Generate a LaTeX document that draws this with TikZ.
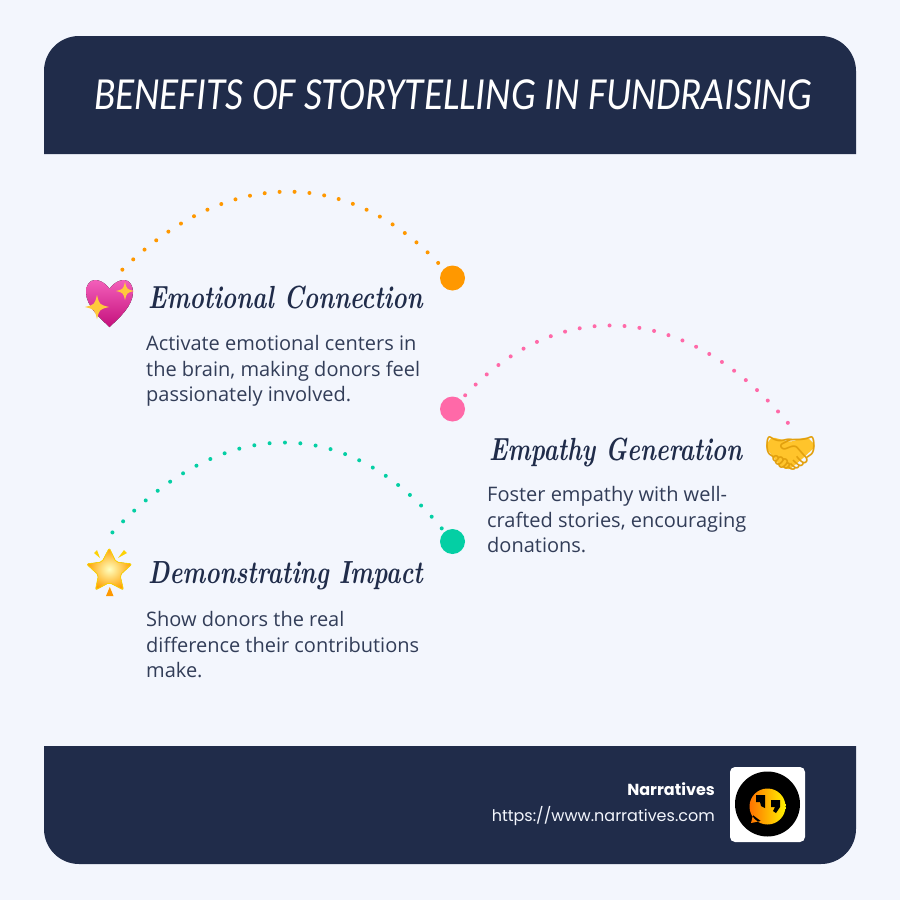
\documentclass[tikz,border=0pt]{standalone}
\usepackage{fontspec}
\usepackage{xcolor}
\setmainfont{Open Sans}
\newfontfamily\footfont{Poppins}
\newfontfamily\emojifont{Noto Emoji}
\newfontfamily\titlefont[FakeStretch=0.85]{Carlito}
\newfontfamily\handfont[FakeStretch=0.76]{Latin Modern Roman}
\definecolor{pagebg}{HTML}{F3F6FD}
\definecolor{navy}{HTML}{202C4A}
\definecolor{orangedot}{HTML}{FF9800}
\definecolor{pinkdot}{HTML}{FF69A8}
\definecolor{greendot}{HTML}{04CFA4}
\definecolor{heartlight}{HTML}{F35FBA}
\definecolor{heartmid}{HTML}{EA2C97}
\definecolor{heartdark}{HTML}{C4107C}
\definecolor{sparkgold}{HTML}{FFC93C}
\definecolor{shakefill}{HTML}{FFC42B}
\definecolor{shakeline}{HTML}{E2A00E}
\tikzset{
    bandfill/.style={fill=navy, draw=none},
    bigdot/.style={circle, minimum size=25pt, inner sep=0pt},
    arcdots/.style={line width=4pt, line cap=round, dash pattern=on 0pt off #1pt},
    headtext/.style={anchor=base west, inner sep=0pt, text=navy, font=\fontsize{32}{32}\handfont\bfseries\itshape},
    bodytext/.style={anchor=north west, align=left, text=navy!92!white, inner sep=0pt, font=\fontsize{20}{25.5}\selectfont},
    sparkle/.pic={\fill[sparkgold] (0,-1) .. controls (0.2,-0.2) .. (1,0) .. controls (0.2,0.2) .. (0,1) .. controls (-0.2,0.2) .. (-1,0) .. controls (-0.2,-0.2) .. cycle;},
}
\begin{document}
\begin{tikzpicture}[x=1pt, y=-1pt]
    \useasboundingbox (0,0) rectangle (900,900);
    \fill[pagebg] (0,0) rectangle (900,900);

    % Header band
    \path[bandfill] (44,154) -- (44,71) arc[start angle=180, end angle=270, radius=35] -- (821,36) arc[start angle=270, end angle=360, radius=35] -- (856,154) -- cycle;
    \node[inner sep=0pt, text=white, font=\fontsize{46}{46}\titlefont\itshape] (title) at (453,95) {BENEFITS OF STORYTELLING IN FUNDRAISING};

    % Footer band
    \path[bandfill] (44,746) -- (856,746) -- (856,829) arc[start angle=0, end angle=90, radius=35] -- (79,864) arc[start angle=90, end angle=180, radius=35] -- cycle;
    \node[anchor=base east, inner sep=0pt, text=white, font=\fontsize{16}{16}\footfont\bfseries] (brand) at (715,795) {Narratives};
    \node[anchor=base east, inner sep=0pt, text=pagebg, font=\fontsize{16}{16}\footfont] (site) at (715,821.5) {https://www.narratives.com};

    % Logo
    \fill[white, rounded corners=5pt] (730,767) rectangle (805,842);
    \fill[black] (767.5,804) circle[radius=32.5];
    \fill[left color=orange!90!red, right color=yellow!90!orange] (767.5,806.5) circle[radius=18] (753,815) -- (751,823) -- (761,821) -- cycle;
    \fill[black] (756,795) rectangle (765,802) (760,802) -- (765,802) -- (765,808) -- (761,806) -- cycle;
    \fill[black] (771,800) rectangle (780,807) (775,807) -- (780,807) -- (776,813) -- (773,811) -- cycle;

    % Emotional Connection
    \node[bigdot, fill=orangedot, outer sep=8.3pt] (dotA) at (452.5,278) {};
    \coordinate (endA) at (120,272);
    \draw[arcdots=14.95, orangedot] (dotA) .. controls (345,165) and (224,168) .. (endA);
    \fill[top color=heartlight, middle color=heartmid, bottom color=heartdark] (109.5,289) .. controls (105,282) and (99,280) .. (95,280) .. controls (89,280) and (86,286) .. (86,292) .. controls (86,306) and (100,318) .. (109.5,327) .. controls (119,318) and (133,306) .. (133,292) .. controls (133,286) and (130,280) .. (124,280) .. controls (120,280) and (114,282) .. (109.5,289);
    \pic[scale=12] at (97,307) {sparkle};
    \pic[scale=9] at (125,291) {sparkle};
    \node[headtext] (headA) at (148,308) {Emotional Connection};
    \node[bodytext] (bodyA) at (146,335.5) {Activate emotional centers in\\the brain, making donors feel\\passionately involved.};

    % Empathy Generation
    \node[bigdot, fill=pinkdot, outer sep=6.2pt] (dotB) at (452.5,409) {};
    \coordinate (endB) at (788,423);
    \draw[arcdots=15, pinkdot] (dotB) .. controls (555,298) and (684,298) .. (endB);
    \node[headtext] (headB) at (489,460) {Empathy Generation};
    \node[bodytext] (bodyB) at (487,486.5) {Foster empathy with well-\\crafted stories, encouraging\\donations.};
    \fill[shakefill, rounded corners=3pt] (765,446) -- (772,437) -- (790,442) -- (807,437) -- (816,446) -- (802,459) -- (789,470) -- (780,466) -- cycle;
    \node[text=shakeline, inner sep=0pt, font=\fontsize{44}{44}\emojifont] (shake) at (790.5,453) {🤝};

    % Demonstrating Impact
    \node[bigdot, fill=greendot, outer sep=4.5pt] (dotC) at (452.5,541.5) {};
    \coordinate (endC) at (111,534);
    \draw[arcdots=15.4, greendot] (dotC) .. controls (347,413) and (222,413) .. (endC);
    \fill[inner color=yellow!25!white, outer color=orange!75!yellow, rounded corners=2pt, draw=yellow!70!orange, line width=0.8pt] (109.3,548) -- (116,562) -- (132,564) -- (120,575) -- (123.5,590) -- (109.3,582.5) -- (95.5,590) -- (98.5,575) -- (86.5,564) -- (102,562) -- cycle;
    \fill[yellow!70!orange] (94,553) -- (97,550) -- (100,558) -- cycle (127,553) -- (124,550) -- (118,558) -- cycle;
    \fill[orange!80!yellow] (109.8,587) -- (113.5,596) -- (106,596) -- cycle;
    \node[headtext] (headC) at (148,583) {Demonstrating Impact};
    \node[bodytext] (bodyC) at (146,611.5) {Show donors the real\\difference their contributions\\make.};
\end{tikzpicture}
\end{document}
